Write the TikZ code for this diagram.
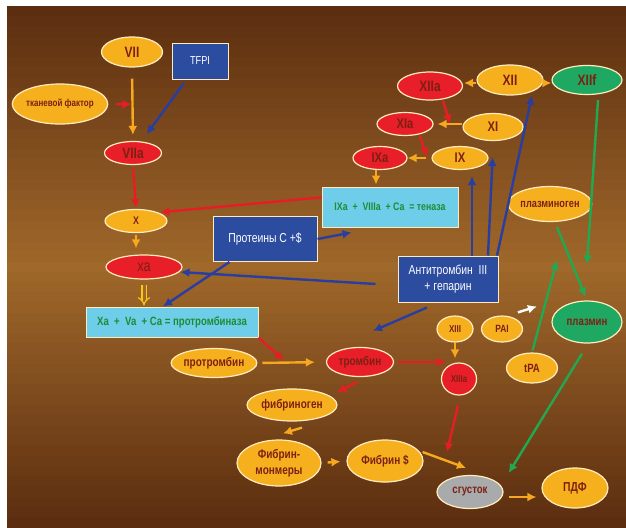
\documentclass[tikz,border=0pt]{standalone}
\usepackage{fontspec}
\setmainfont{Liberation Sans}[FakeStretch=0.8]
\usetikzlibrary{shapes.geometric,calc,arrows.meta}

\definecolor{fondoA}{RGB}{92,46,16}
\definecolor{fondoB}{RGB}{160,104,42}
\definecolor{amar}{RGB}{246,176,30}
\definecolor{rojo}{RGB}{232,30,40}
\definecolor{verde}{RGB}{30,168,98}
\definecolor{gris}{RGB}{168,170,172}
\definecolor{azul}{RGB}{44,76,160}
\definecolor{cian}{RGB}{110,206,234}
\definecolor{borde}{RGB}{255,236,190}
\definecolor{letra}{RGB}{125,32,20}
\definecolor{letraV}{RGB}{30,140,50}
\definecolor{flN}{RGB}{246,168,30}
\definecolor{flR}{RGB}{230,30,36}
\definecolor{flA}{RGB}{40,62,160}
\definecolor{flV}{RGB}{34,168,80}

\begin{document}
\begin{tikzpicture}[>={Latex[length=9pt,width=9pt]}, x=1pt, y=-1pt,
    every node/.style={inner sep=0pt, align=center},
    sz/.style 2 args={minimum width=#1pt, minimum height=#2pt},
    fs/.style={font=\fontsize{#1}{#1}\selectfont\bfseries},
    fsn/.style={font=\fontsize{#1}{#1}\selectfont},
    elip/.style={ellipse, draw=borde, line width=1.2pt, text=letra},
    ea/.style={elip, fill=amar},
    er/.style={elip, fill=rojo},
    ev/.style={elip, fill=verde},
    eg/.style={elip, fill=gris},
    caja/.style={rectangle, draw=borde, line width=1pt},
    cazul/.style={caja, fill=azul, text=white},
    ccian/.style={caja, fill=cian, text=letraV},
    fl/.style={->, line width=2.4pt},
    fn/.style={fl, draw=flN},
    fr/.style={fl, draw=flR},
    fa/.style={fl, draw=flA},
    fv/.style={fl, draw=flV},
    fb/.style={fl, draw=white},
    hueca/.style={-{Implies}, line width=1.2pt, draw=amar!70!yellow,
      double=fondoB, double distance=3pt}]
  % Fondo
  \fill[white] (0,0) rectangle (626,517);
  \foreach \i in {0,...,50}{
    \pgfmathtruncatemacro\p{100*(1-abs(\i-25)/25)}
    \fill[fondoB!\p!fondoA] (7,{6+\i*10.22}) rectangle (626,{6+(\i+1)*10.22+0.6});
  }

  % Via extrinseca
  \node[ea,sz={61}{30},fs=15] (vii) at (132,52) {VII};
  \node[cazul,sz={56}{36},fsn=11.5] (tfpi) at (200,61) {TFPI};
  \node[ea,sz={88}{40},fs=10] (tf) at (60,104) {тканевой фактор};
  \node[er,sz={57}{23},fs=15] (viia) at (133,153) {VIIa};
  \node[ea,sz={62}{23},fs=11] (x) at (136,221) {X};
  \node[er,sz={76}{24},fsn=16] (xa) at (144,267) {ха};

  % Complejos
  \node[cazul,sz={104}{45},fsn=13] (prot) at (265,239) {Протеины C +\$};
  \node[ccian,sz={136}{40},fs=11] (tenaza) at (390,207)
    {IXa~ +~ VIIIa~ +~Ca~ =~теназа};
  \node[ccian,sz={172}{30},fs=12] (prbox) at (172,322)
    {Xa~ +~ Va~ +~Ca = протромбиназа};
  \node[cazul,sz={100}{46},fsn=13] (at) at (448,279)
    {Антитромбин~~III\\[3pt]+ гепарин};

  % Via intrinseca
  \node[er,sz={65}{28},fs=15] (xiia) at (430,86) {XIIa};
  \node[ea,sz={66}{30},fs=15] (xii) at (510,80) {XII};
  \node[ev,sz={70}{29},fs=15] (xiif) at (587,80) {XIIf};
  \node[er,sz={56}{23},fs=14] (xia) at (405,124) {XIa};
  \node[ea,sz={60}{27},fs=14] (xi) at (493,127) {XI};
  \node[er,sz={54}{23},fs=14] (ixa) at (380,158) {IXa};
  \node[ea,sz={56}{23},fs=14] (ix) at (460,158) {IX};
  \node[ea,sz={77}{35},fs=11.5] (plg) at (550,204) {плазминоген};

  % Trombina y fibrina
  \node[ea,sz={75}{29},fs=12.5] (prtb) at (214,363) {протромбин};
  \node[er,sz={67}{29},fs=12.5] (tromb) at (360,362) {тромбин};
  \node[ea,sz={90}{32},fs=12.5] (fib) at (292,405) {фибриноген};
  \node[ea,sz={84}{46},fs=12.5] (mon) at (279,463) {Фибрин-\\[3pt]монмеры};
  \node[ea,sz={76}{42},fs=12.5] (fibs) at (385,461) {Фибрин \$};
  \node[ea,sz={36}{26},fs=10] (xiii) at (455,329) {XIII};
  \node[ea,sz={41}{26},fs=10.5] (pai) at (502,329) {PAI};
  \node[er,sz={35}{32},fs=10] (xiiia) at (459,379) {XIIIa};
  \node[ea,sz={51}{30},fs=12] (tpa) at (532,368) {tPA};
  \node[ev,sz={70}{42},fs=12] (plasmin) at (587,322) {плазмин};
  \node[eg,sz={66}{33},fs=12] (sg) at (470,492) {сгусток};
  \node[ea,sz={66}{40},fs=13] (pdf) at (575,488) {ПДФ};

  % Flechas
  \draw[fn,shorten <=11pt,shorten >=6pt] (vii.south) -- (viia.north);
  \draw[fr,shorten <=8pt,shorten >=1pt] (tf.east)
    -- ($(vii.south)!.5!(viia.north)$);
  \draw[fa,shorten <=4pt,shorten >=9pt] (tfpi) -- (viia);
  \draw[fr,shorten <=3pt,shorten >=1pt] (viia.south) -- (x.north);
  \draw[fr,shorten >=2pt] (tenaza.172) -- (x.north east);
  \draw[fn,shorten <=2pt,shorten >=6pt] (x.south) -- (x.south |- xa.north);
  \draw[hueca,shorten <=5pt,shorten >=1pt] (xa.south) -- (xa.south |- prbox.north);
  \draw[fa] (prot.east) -- ($(tenaza.south west)+(30,5)$);
  \draw[fa] ($(prot.south west)+(17,0)$) -- ($(prbox.north)+(-9,0)$);
  \draw[fa,shorten >=1pt] ($(at.west)+(-22,5)$) -- (xa.-8);
  \draw[fa] ($(at.north)+(24,0)$) -- ($(ix.south)+(12,6)$);
  \draw[fa] ($(at.north)+(40,0)$) -- ($(ix.east)+(4,-1)$);
  \draw[fa] ($(at.north)+(49,0)$) -- ($(xii.south)+(22,0)$);
  \draw[fa] ($(at.south)+(-21,5)$) -- ($(tromb.north)+(13,-16)$);
  \draw[fr,shorten >=3pt] (prbox.south east) -- ($(prtb.east)!.42!(tromb.west)$);
  \draw[fn,shorten <=5pt,shorten >=11pt] (prtb.east) -- (tromb.west);
  \draw[fr,shorten <=4pt] (tromb.east) -- ($(tromb.east -| xiiia.west)+(5,0)$);
  \draw[fr] ($(tromb.south)+(-3,5)$) -- ($(fib.north east)+(13,-1)$);
  \draw[fn,shorten >=4pt] (xiii.south) -- (xiii.south |- xiiia.north);
  \draw[fb] ($(pai.north east)+(1,-7)$) -- ($(pai.north east)+(20,-13)$);
  \draw[fv,shorten <=2pt] (tpa.north) -- ($(tpa.north)+(25,-92)$);
  \draw[fv,shorten >=4pt] ($(plg.south)+(7,5)$) -- (plasmin.north);
  \draw[fv] ($(xiif.south)+(11,5)$) -- ($(plasmin.north)+(0,-36)$);
  \draw[fv] ($(plasmin.south)+(-5,10)$) -- ($(sg.north east)+(15,-7)$);
  \draw[fr] ($(xiiia.south)+(-1,10)$) -- ($(sg.north)+(-23,-23)$);
  \draw[fn] ($(fibs.east)+(-1,-9)$) -- ($(sg.north)+(-4,-7)$);
  \draw[fn] ($(sg.east)+(5,5)$) -- ($(sg.east -| pdf.west)+(-5,5)$);
  \draw[fn] ($(fib.south)+(10,6)$) -- ($(mon.north)+(4,-6)$);
  \draw[fn,shorten <=6pt,shorten >=6pt] (mon.east) -- (fibs.west);
  \draw[fn] ($(xii.west)+(0,3)$) -- ($(xii.west -| xiia.east)+(1,3)$);
  \draw[fn] ($(xii.east)+(0,3)$) -- ($(xii.east -| xiif.west)+(0,3)$);
  \draw[fr] ($(xiia.south)+(13,0)$) -- ($(xiia.south)+(20,23)$);
  \draw[fn] ($(xi.west)+(0,-3)$) -- ($(xia.east)+(4,0)$);
  \draw[fr] ($(xia.south)+(15,0)$) -- ($(xia.south)+(22,21)$);
  \draw[fn,shorten <=5pt] (ix.west) -- (ixa.east);
  \draw[fn] ($(ixa.south)+(-4,0)$) -- ($(ixa.south |- tenaza.north)+(-4,-2)$);
\end{tikzpicture}
\end{document}
